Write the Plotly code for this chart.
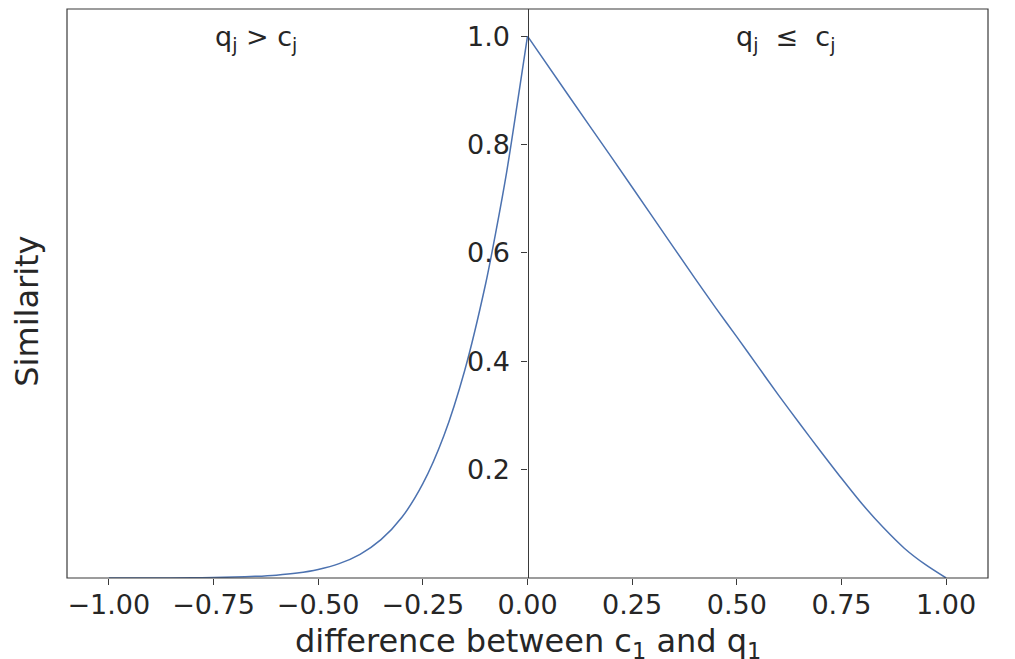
import plotly.graph_objects as go

# difference between c1 and q1 (x) and similarity (y)
# branch q_j > c_j (negative differences)
diff_left = [-1.0, -0.9, -0.8, -0.75, -0.7, -0.65, -0.6, -0.55, -0.5, -0.45, -0.4,
             -0.35, -0.3, -0.25, -0.2, -0.15, -0.1, -0.075, -0.05, -0.025, 0.0]
sim_left = [0.0, 0.0001, 0.0004, 0.0009, 0.0017, 0.003, 0.0052, 0.0091, 0.0158,
            0.0265, 0.0437, 0.0707, 0.112, 0.174, 0.262, 0.383, 0.543, 0.641,
            0.748, 0.872, 1.0]
# branch q_j <= c_j (positive differences)
diff_right = [0.0, 0.1, 0.2, 0.3, 0.4, 0.45, 0.5, 0.55, 0.6, 0.65, 0.7, 0.75, 0.8,
              0.85, 0.9, 0.95, 1.0]
sim_right = [1.0, 0.888, 0.777, 0.665, 0.553, 0.498, 0.445, 0.391, 0.337, 0.285,
             0.234, 0.184, 0.136, 0.093, 0.055, 0.025, 0.0]

x_ticks = [-1.0, -0.75, -0.5, -0.25, 0.0, 0.25, 0.5, 0.75, 1.0]
x_tick_labels = ["\u22121.00", "\u22120.75", "\u22120.50", "\u22120.25", "0.00",
                 "0.25", "0.50", "0.75", "1.00"]
y_ticks = [0.2, 0.4, 0.6, 0.8, 1.0]
y_tick_labels = ["0.2", "0.4", "0.6", "0.8", "1.0"]

FONT = "DejaVu Sans"
INK = "#262626"
EDGE = "#3a3a3a"
LINE = "#4C72B0"

fig = go.Figure()
for xs, ys in ((diff_left, sim_left), (diff_right, sim_right)):
    fig.add_trace(go.Scatter(x=xs, y=ys, mode="lines",
                             line=dict(color=LINE, width=1.5, shape="spline",
                                       smoothing=0.8),
                             showlegend=False, hoverinfo="skip"))

fig.update_layout(
    width=1015, height=659,
    margin=dict(l=59, r=35, t=1, b=89),
    plot_bgcolor="white", paper_bgcolor="white",
    font=dict(family=FONT, color=INK, size=27),
    xaxis=dict(range=[-1.1, 1.1], tickvals=x_ticks, ticktext=x_tick_labels,
               ticks="outside", ticklen=6, tickwidth=1.2, tickcolor=EDGE,
               ticklabelstandoff=-3,
               showgrid=False, zeroline=False, showline=False,
               tickfont=dict(size=27, family=FONT, color=INK)),
    yaxis=dict(range=[0, 1.05], tickvals=y_ticks, ticktext=y_tick_labels,
               anchor="free", position=0.5, side="left",
               ticks="outside", ticklen=6, tickwidth=1.2, tickcolor=EDGE,
               ticklabelstandoff=6,
               showgrid=False, zeroline=False, showline=True,
               linecolor=EDGE, linewidth=1.2,
               tickfont=dict(size=27, family=FONT, color=INK)),
    shapes=[dict(type="rect", xref="paper", yref="paper", x0=0, x1=1, y0=0, y1=1,
                 line=dict(color=EDGE, width=1.2), layer="above")],
    annotations=[
        dict(text="difference between c<sub>1</sub> and q<sub>1</sub>",
             xref="paper", yref="paper", x=0.5, y=-0.115,
             showarrow=False, xanchor="center", yanchor="middle",
             font=dict(size=32, family=FONT, color=INK)),
        dict(text="Similarity", xref="paper", yref="paper", x=-0.0434, y=0.468,
             textangle=-90, showarrow=False, xanchor="center", yanchor="middle",
             font=dict(size=32, family=FONT, color=INK)),
        dict(text="q<sub>j</sub> > c<sub>j</sub>", xref="x", yref="y",
             x=-0.648, y=0.995, showarrow=False, xanchor="center", yanchor="middle",
             font=dict(size=27, family=FONT, color=INK)),
        dict(text="q<sub>j</sub>\u00a0 \u2264 \u00a0c<sub>j</sub>", xref="x", yref="y",
             x=0.617, y=0.995, showarrow=False, xanchor="center", yanchor="middle",
             font=dict(size=27, family=FONT, color=INK)),
    ],
)

fig.write_html("out.html")
